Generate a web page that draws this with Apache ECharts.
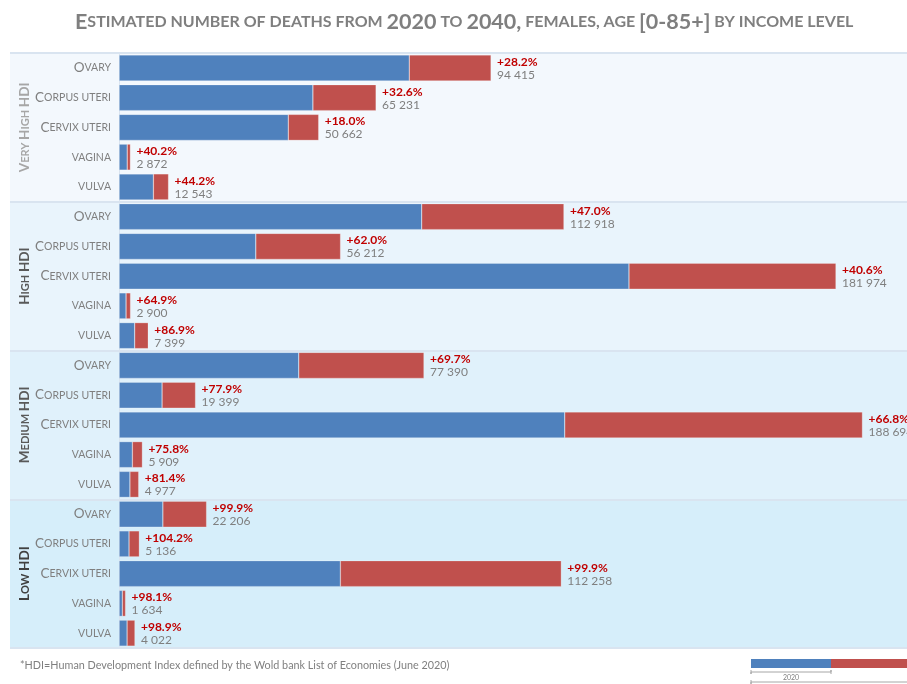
<!DOCTYPE html>
<html>
<head>
<meta charset="utf-8">
<script src="https://cdn.jsdelivr.net/npm/echarts@6/dist/echarts.min.js"></script>
<style>
  html, body { margin: 0; padding: 0; background: #fff; }
  #chart { width: 907px; height: 684px; }
</style>
</head>
<body>
<div id="chart"></div>
<script>
/** deaths 2020 -> 2040 by HDI level */
let groups = ["Very High HDI", "High HDI", "Medium HDI", "Low HDI"];
let organs = ["Ovary", "Corpus uteri", "Cervix uteri", "Vagina", "Vulva"];
// estimated deaths in 2040 (label under the %)
let deaths_2040 = [
	94415, 65231, 50662, 2872, 12543,
	112918, 56212, 181974, 2900, 7399,
	77390, 19399, 188694, 5909, 4977,
	22206, 5136, 112258, 1634, 4022,
];
// increase 2020 -> 2040, %
let growth = [
	28.2, 32.6, 18.0, 40.2, 44.2,
	47.0, 62.0, 40.6, 64.9, 86.9,
	69.7, 77.9, 66.8, 75.8, 81.4,
	99.9, 104.2, 99.9, 98.1, 98.9,
];

let row_names = [];
let blue_data = [];
let red_data = [];
for (let i = 0; i < deaths_2040.length; i++) {
	row_names.push(groups[Math.floor(i / 5)] + " - " + organs[i % 5]);
	let base = Math.round(deaths_2040[i] / (1 + growth[i] / 100));
	blue_data.push(base);
	red_data.push({ value: deaths_2040[i] - base, total: deaths_2040[i], pct: growth[i] });
}

// 小型大写字母
function smallCaps(text, big, small) {
	let out = "";
	text.split(" ").forEach(function (w, k) {
		if (k > 0) out += "{" + small + "| }";
		let first = w.charAt(0);
		let rest = w.slice(1);
		if (first === first.toUpperCase()) out += "{" + big + "|" + first + "}";
		else out += "{" + small + "|" + first.toUpperCase() + "}";
		if (rest) {
			// 全大写的词 (HDI) 保持大字
			if (rest === rest.toUpperCase()) out += "{" + big + "|" + rest + "}";
			else out += "{" + small + "|" + rest.toUpperCase() + "}";
		}
	});
	return out;
}

function fmtNum(n) {
	return String(n).replace(/\B(?=(\d{3})+(?!\d))/g, " ");
}

let font = "Lato";
let grey = "#7f7f7f";
let group_colors = ["#a6a6a6", "#595959", "#595959", "#404040"];

let chart = echarts.init(document.getElementById("chart"));
let option = {
	backgroundColor: "#fff",
	animation: false,
	title: {
		text: "{b|E}{s|STIMATED NUMBER OF DEATHS FROM }{b|2020}{s| TO }{b|2040,}{s| FEMALES, AGE }{b|[0-85+]}{s| BY INCOME LEVEL}",
		left: 70,
		top: 6,
		textStyle: {
			rich: {
				b: { fontFamily: font, fontWeight: "bold", fontSize: 21.5, color: grey },
				s: { fontFamily: font, fontWeight: "bold", fontSize: 16, color: grey },
			},
		},
	},
	grid: {
		left: 10,
		right: 0,
		top: 53,
		bottom: 36,
	},
	xAxis: {
		type: "value",
		min: -27700, // 左边留给标签
		max: 200000,
		show: false,
	},
	yAxis: [
		{
			type: "category",
			data: row_names,
			inverse: true,
			axisLine: { show: true, lineStyle: { color: "#d9e4f0", width: 1 } },
			axisTick: { show: false },
			splitLine: {
				show: true,
				interval: 4,
				lineStyle: { color: "#d9e4f0", width: 2 },
			},
			splitArea: {
				show: true,
				interval: 4,
				areaStyle: { color: ["#f3f8fd", "#e9f4fc", "#e0f1fb", "#d6eefa"] },
			},
			axisLabel: {
				align: "right",
				margin: -101,
				formatter: function (value, index) {
					let name = organs[index % 5];
					if (name === "Vagina" || name === "Vulva") return "{s|" + name.toUpperCase() + "}";
					return smallCaps(name.charAt(0).toUpperCase() + name.slice(1).toLowerCase(), "b", "s");
				},
				rich: {
					b: { fontFamily: font, fontSize: 13.5, color: grey },
					s: { fontFamily: font, fontSize: 10.5, color: grey },
				},
			},
		},
		{
			type: "category",
			data: groups,
			inverse: true,
			position: "left",
			axisLine: { show: false },
			axisTick: { show: false },
			splitLine: { show: false },
			axisLabel: {
				interval: 0,
				rotate: 90,
				margin: -22,
				formatter: function (value, index) {
					return smallCaps(value, "b" + index, "s" + index);
				},
				rich: (function () {
					let r = {};
					group_colors.forEach(function (c, k) {
						r["b" + k] = { fontFamily: font, fontWeight: "bold", fontSize: 13.5, color: c };
						r["s" + k] = { fontFamily: font, fontWeight: "bold", fontSize: 11, color: c };
					});
					return r;
				})(),
			},
		},
	],
	series: [
		{
			name: "2020",
			type: "bar",
			stack: "deaths",
			yAxisIndex: 0,
			barWidth: 26,
			itemStyle: { color: "#4f81bd", borderColor: "rgba(255,255,255,0.5)", borderWidth: 0.5 },
			data: blue_data,
		},
		{
			name: "2040",
			type: "bar",
			stack: "deaths",
			yAxisIndex: 0,
			barWidth: 26,
			itemStyle: { color: "#c0504d", borderColor: "rgba(255,255,255,0.5)", borderWidth: 0.5 },
			label: {
				show: true,
				position: "right",
				distance: 6,
				formatter: function (p) {
					return "{p|+" + p.data.pct.toFixed(1) + "%}\n{v|" + fmtNum(p.data.total) + "}";
				},
				rich: {
					p: { fontFamily: font, fontWeight: "bold", fontSize: 12, color: "#c00000", lineHeight: 14, padding: [2, 0, 0, 0] },
					v: { fontFamily: font, fontSize: 12, color: grey, lineHeight: 14 },
				},
			},
			data: red_data,
		},
	],
	graphic: [
		{
			type: "text",
			left: 20,
			top: 660,
			style: {
				text: "*HDI=Human Development Index defined by the Wold bank List of Economies (June 2020)",
				font: "10.8px Lato",
				fill: grey,
			},
		},
		// 图例
		{ type: "rect", shape: { x: 751, y: 659, width: 80, height: 9 }, style: { fill: "#4f81bd" } },
		{ type: "rect", shape: { x: 831, y: 659, width: 80, height: 9 }, style: { fill: "#c0504d" } },
		{ type: "polyline", shape: { points: [[751, 670], [751, 674], [751, 672], [831, 672], [831, 670], [831, 674]] }, style: { stroke: "#a6a6a6", lineWidth: 1, fill: null } },
		{ type: "text", x: 791, y: 674, style: { text: "2020", font: "7px Lato", fill: "#7f7f7f", align: "center" } },
		{ type: "polyline", shape: { points: [[751, 680], [751, 684], [751, 682], [907, 682]] }, style: { stroke: "#a6a6a6", lineWidth: 1, fill: null } },
	],
};
chart.setOption(option);
</script>
</body>
</html>
